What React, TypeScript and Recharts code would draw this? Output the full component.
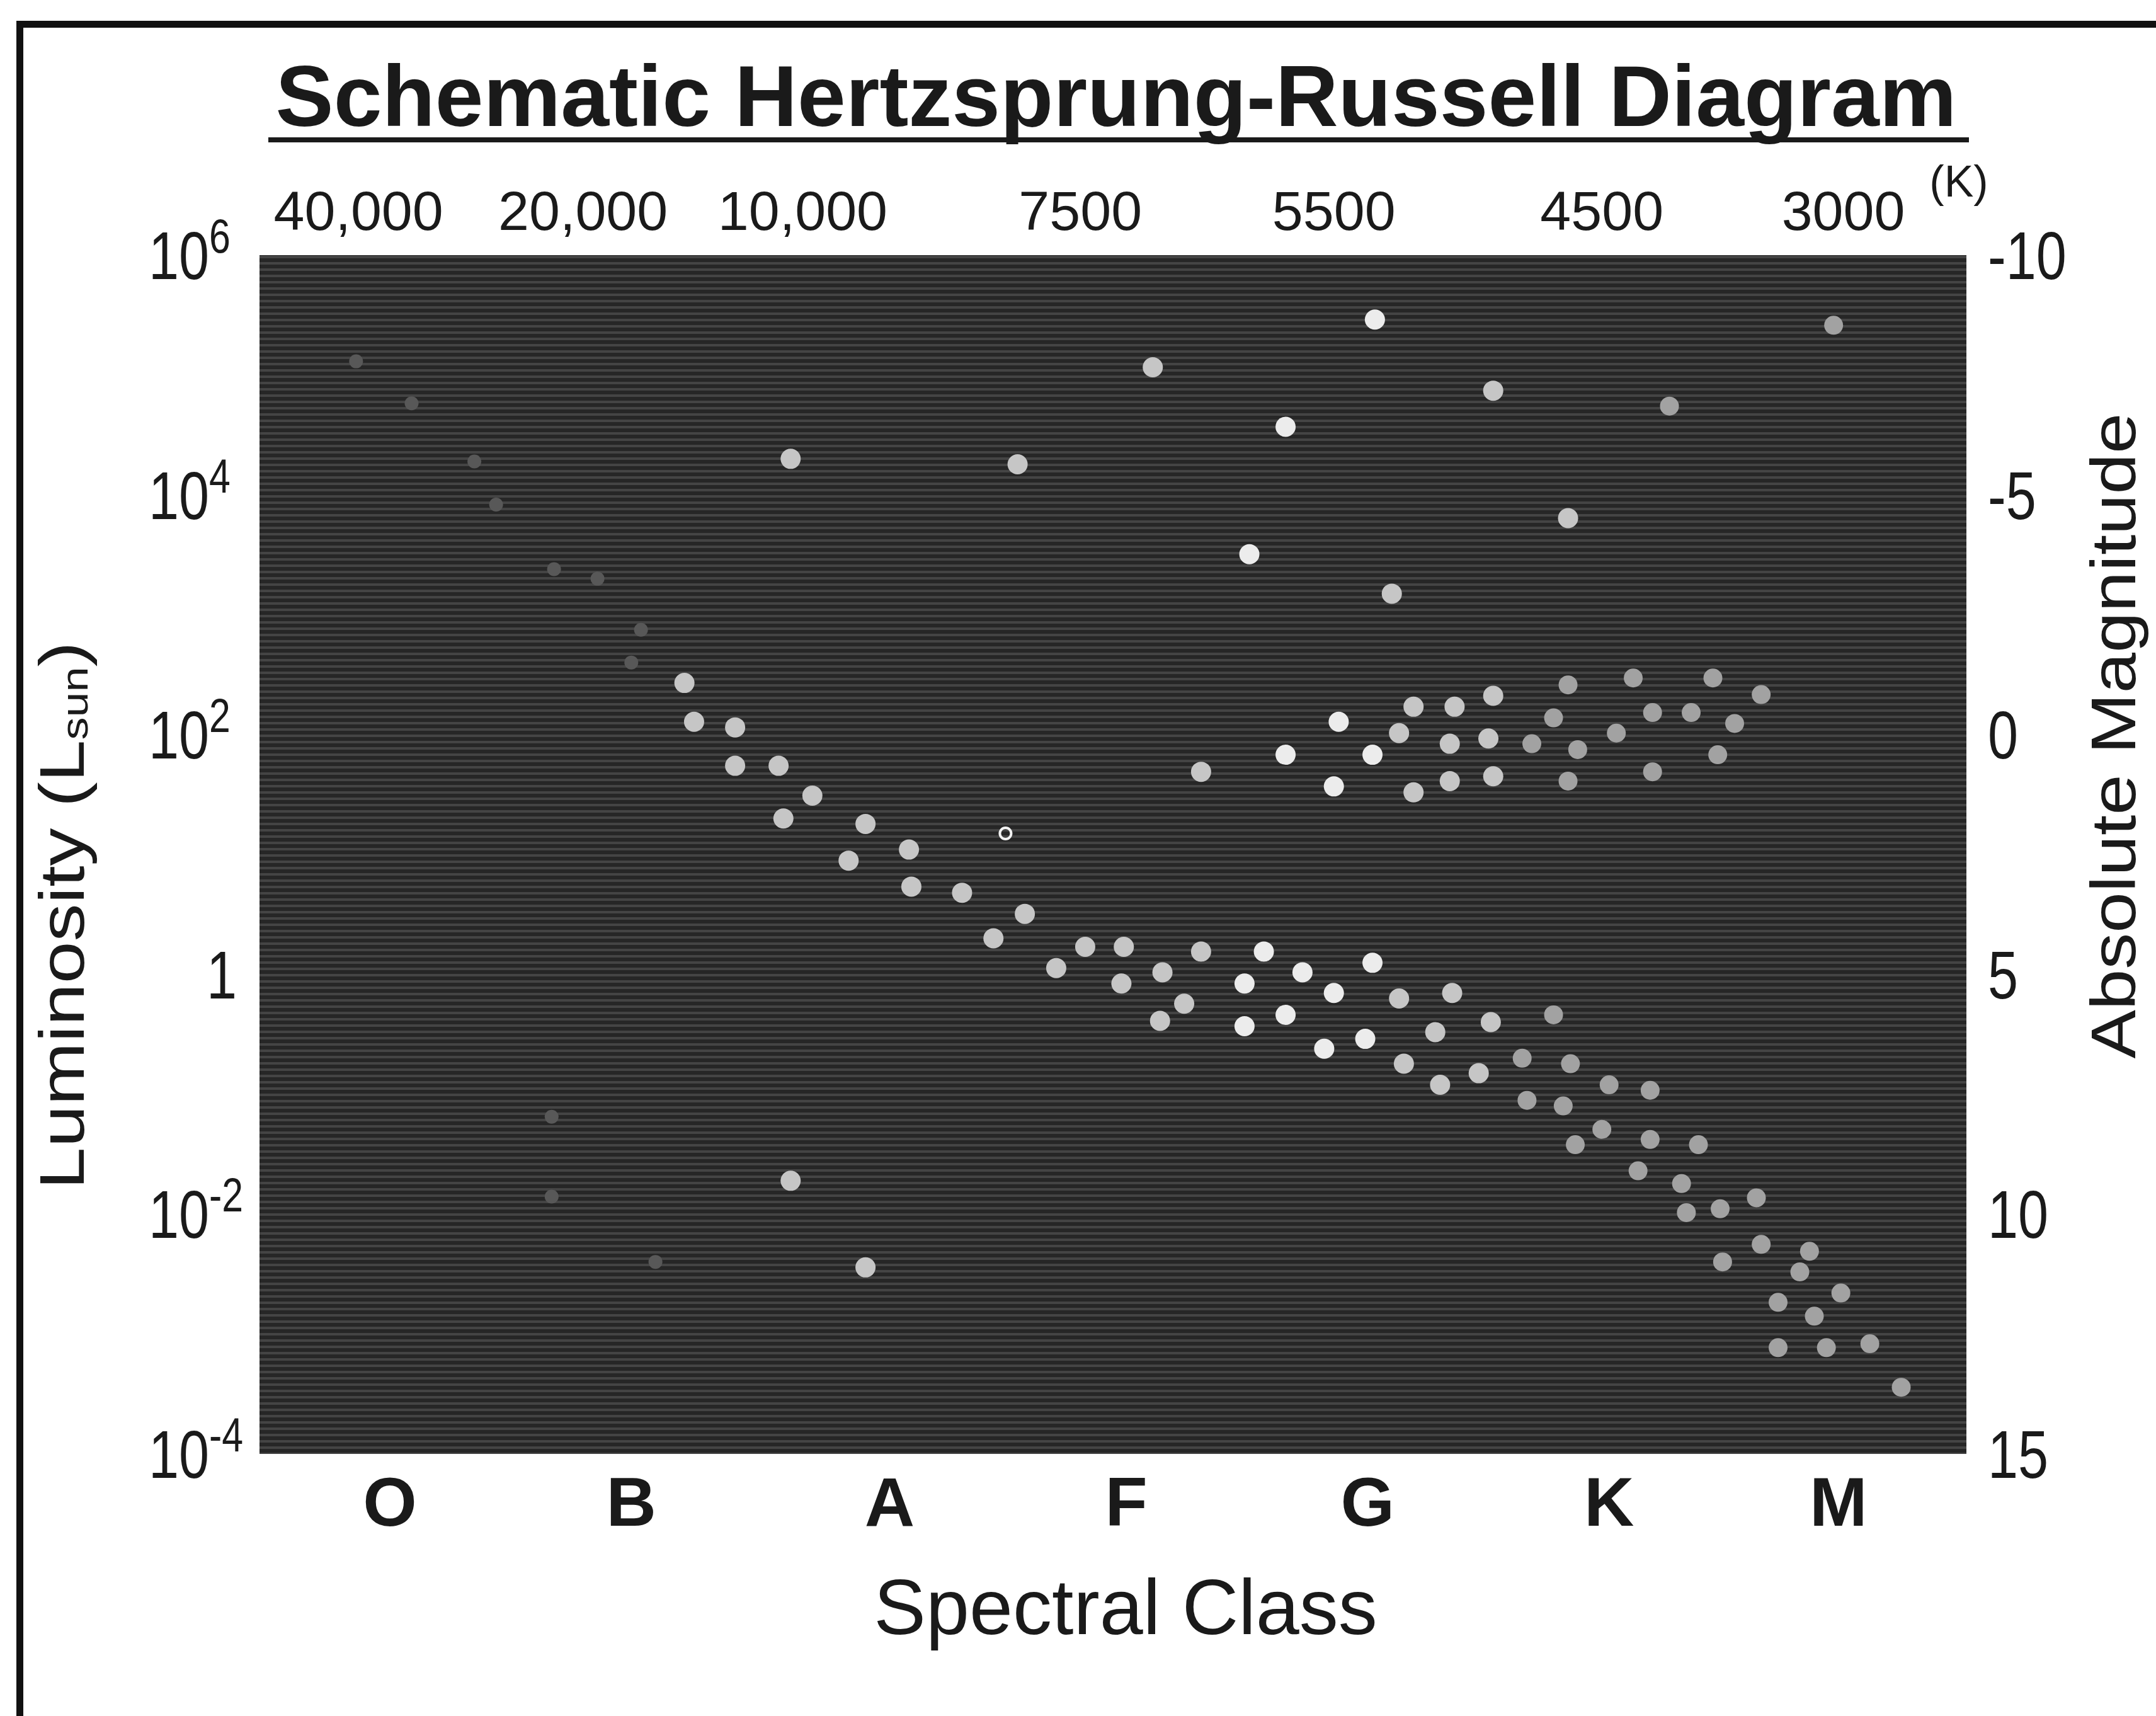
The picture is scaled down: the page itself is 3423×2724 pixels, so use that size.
import { ScatterChart, Scatter, XAxis, YAxis, CartesianGrid } from "recharts";

const classTicks = [1, 2, 3.07, 4.05, 5.05, 6.05, 7];
const classLabels = ["O", "B", "A", "F", "G", "K", "M"];
const tempTicks = [0.87, 1.8, 2.71, 3.86, 4.91, 6.02, 7.02];
const tempLabels = ["40,000", "20,000", "10,000", "7500", "5500", "4500", "3000"];
const lumTicks = [1e-4, 1e-2, 1, 1e2, 1e4, 1e6];
const magTicks = [-10, -5, 0, 5, 10, 15];

// [spectral index (O=1 ... M=7), luminosity in L_sun]
const brightStars = [
  [5.08, 2.9e5], [4.71, 3.7e4], [4.56, 3.2e3],
  [4.71, 68], [4.93, 128], [4.91, 37], [5.07, 68],
  [4.62, 1.55], [5.07, 1.25], [4.78, 1.04], [4.54, 0.84], [4.91, 0.7],
  [4.71, 0.46], [4.54, 0.37], [5.04, 0.29], [4.87, 0.24],
];

const mediumStars = [
  [4.16, 1.16e5], [5.57, 7.4e4], [2.66, 2.0e4], [3.6, 1.8e4], [5.88, 6.4e3], [5.15, 1.5e3],
  [2.22, 270], [2.26, 128], [2.43, 115], [2.43, 55], [2.61, 55], [2.75, 31],
  [2.63, 20], [2.97, 18], [3.15, 11], [2.9, 8.9], [3.16, 5.4], [3.37, 4.8],
  [3.63, 3.2], [3.5, 2.0], [3.88, 1.7], [4.04, 1.7], [3.76, 1.13], [4.03, 0.84],
  [4.36, 1.55], [4.2, 1.04], [5.18, 0.63], [5.4, 0.7], [4.29, 0.57], [4.19, 0.41],
  [5.56, 0.4], [5.33, 0.33], [5.2, 0.18], [5.51, 0.15], [5.35, 0.12],
  [4.36, 49], [5.18, 103], [5.24, 171], [5.41, 171], [5.57, 211], [5.39, 84],
  [5.55, 93], [5.24, 33], [5.39, 41], [5.57, 45],
  [2.66, 0.019], [2.97, 0.0036],
];

const dimStars = [
  [6.98, 2.6e5], [6.3, 5.5e4],
  [5.82, 0.46], [5.69, 0.2], [5.89, 0.18], [5.71, 0.089], [5.86, 0.08], [6.05, 0.12],
  [6.22, 0.108], [6.02, 0.051], [5.91, 0.038], [6.22, 0.042], [6.42, 0.038], [6.17, 0.023],
  [6.35, 0.018], [6.66, 0.0137], [6.37, 0.0103], [6.51, 0.0111], [6.68, 0.0056],
  [6.88, 0.0049], [6.52, 0.004], [6.84, 0.0033], [7.01, 0.0022], [6.75, 0.00184],
  [6.9, 0.00141], [6.75, 0.00077], [6.95, 0.00077], [7.13, 0.00083], [7.26, 0.00036],
  [5.73, 84], [5.88, 260], [5.82, 138], [5.92, 75], [5.88, 41], [6.15, 297],
  [6.48, 297], [6.68, 216], [6.23, 153], [6.39, 153], [6.57, 124], [6.08, 103],
  [6.5, 68], [6.23, 49],
];

const faintStars = [
  [0.86, 1.3e5], [1.09, 5.8e4], [1.35, 1.9e4], [1.44, 8.3e3], [1.68, 2.4e3],
  [1.86, 2.0e3], [2.04, 750], [2.0, 400], [1.67, 0.065], [1.67, 0.014], [2.1, 0.004],
];

const openStars = [[3.55, 15]];

const toPoints = (rows: number[][]) => rows.map(([x, lum]) => ({ x, lum }));

const TEXT = "#1a1a1a";
const FONT = "'Liberation Sans', Arial, sans-serif";

const dot = (fill: string, r: number) => (props: any) =>
  <circle cx={props.cx} cy={props.cy} r={r} fill={fill} />;

const ring = (props: any) => (
  <circle cx={props.cx} cy={props.cy} r={9} fill="none" stroke="#f2f2f2" strokeWidth={4} />
);

// the scan's tick labels are a narrow face, hence the horizontal squeeze
const LumTick = ({ x, y, payload }: any) => {
  const exp = Math.round(Math.log10(payload.value));
  if (exp === 0) {
    return (
      <g transform={`translate(${x},${y}) scale(0.8,1)`}>
        <text textAnchor="end" dy={38} fontSize={108} fill={TEXT} fontFamily={FONT}>1</text>
      </g>
    );
  }
  return (
    <g transform={`translate(${x - 140},${y}) scale(0.8,1)`}>
      <text textAnchor="start" dy={38} fontSize={108} fill={TEXT} fontFamily={FONT}>
        10
        <tspan fontSize={76} dy={-42}>{exp}</tspan>
      </text>
    </g>
  );
};

const MagTick = ({ x, y, payload }: any) => (
  <g transform={`translate(${x},${y}) scale(0.8,1)`}>
    <text textAnchor="start" dy={38} fontSize={108} fill={TEXT} fontFamily={FONT}>
      {payload.value}
    </text>
  </g>
);

const TempTick = ({ x, y, index }: any) => (
  <text x={x} y={y} textAnchor="middle" dy={30} fontSize={88} fill={TEXT} fontFamily={FONT}>
    {tempLabels[index]}
  </text>
);

const ClassTick = ({ x, y, index }: any) => (
  <text x={x} y={y} textAnchor="middle" dy={38} fontSize={110} fontWeight="bold" fill={TEXT} fontFamily={FONT}>
    {classLabels[index]}
  </text>
);

const W = 3423;
const H = 2724;

export default function App() {
  return (
    <div style={{ position: "absolute", left: 0, top: 0, width: W, height: H, background: "#fff" }}>
      <ScatterChart
        width={W}
        height={H}
        margin={{ top: 255, right: 51, bottom: 266, left: 112 }}
      >
        <defs>
          <pattern id="scanlines" width="10" height="10" patternUnits="userSpaceOnUse">
            <rect width="10" height="10" fill="#262626" />
            <rect y="6" width="10" height="4" fill="#444444" />
          </pattern>
        </defs>
        <CartesianGrid horizontal={false} vertical={false} fill="url(#scanlines)" stroke="none" />
        <XAxis
          xAxisId="class"
          type="number"
          dataKey="x"
          domain={[0.46, 7.53]}
          allowDataOverflow
          ticks={classTicks}
          interval={0}
          orientation="bottom"
          height={150}
          axisLine={false}
          tickLine={false}
          tickSize={0}
          tickMargin={76}
          tick={<ClassTick />}
        />
        <XAxis
          xAxisId="temp"
          type="number"
          dataKey="x"
          domain={[0.46, 7.53]}
          allowDataOverflow
          ticks={tempTicks}
          interval={0}
          orientation="top"
          height={150}
          axisLine={false}
          tickLine={false}
          tickSize={0}
          tickMargin={70}
          tick={<TempTick />}
        />
        <YAxis
          yAxisId="lum"
          type="number"
          dataKey="lum"
          scale="log"
          domain={[1e-4, 1e6]}
          allowDataOverflow
          ticks={lumTicks}
          interval={0}
          orientation="left"
          width={300}
          axisLine={false}
          tickLine={false}
          tickSize={0}
          tickMargin={36}
          tick={<LumTick />}
        />
        <YAxis
          yAxisId="mag"
          type="number"
          dataKey="mag"
          domain={[-10, 15]}
          reversed
          allowDataOverflow
          ticks={magTicks}
          interval={0}
          orientation="right"
          width={250}
          axisLine={false}
          tickLine={false}
          tickSize={0}
          tickMargin={34}
          tick={<MagTick />}
        />
        <Scatter xAxisId="temp" yAxisId="mag" data={[]} isAnimationActive={false} />
        <Scatter xAxisId="class" yAxisId="lum" data={toPoints(faintStars)} shape={dot("#585858", 11)} isAnimationActive={false} />
        <Scatter xAxisId="class" yAxisId="lum" data={toPoints(dimStars)} shape={dot("#a2a2a2", 15)} isAnimationActive={false} />
        <Scatter xAxisId="class" yAxisId="lum" data={toPoints(mediumStars)} shape={dot("#c6c6c6", 16)} isAnimationActive={false} />
        <Scatter xAxisId="class" yAxisId="lum" data={toPoints(brightStars)} shape={dot("#ececec", 16)} isAnimationActive={false} />
        <Scatter xAxisId="class" yAxisId="lum" data={toPoints(openStars)} shape={ring} isAnimationActive={false} />
      </ScatterChart>

      <svg width={W} height={H} style={{ position: "absolute", left: 0, top: 0, pointerEvents: "none" }}>
        <rect x={26} y={33} width={W - 26} height={11} fill="#111" />
        <rect x={26} y={33} width={11} height={H - 33} fill="#111" />
        <text x={1772} y={200} textAnchor="middle" fontSize={138} fontWeight="bold" fill={TEXT} fontFamily={FONT}>
          Schematic Hertzsprung-Russell Diagram
        </text>
        <rect x={426} y={218} width={2700} height={8} fill={TEXT} />
        <text x={3110} y={312} textAnchor="middle" fontSize={70} fill={TEXT} fontFamily={FONT}>
          (K)
        </text>
        <text
          transform="translate(98,1888) rotate(-90) scale(1.2,1)"
          textAnchor="start"
          dominantBaseline="central"
          fontSize={100}
          fill={TEXT}
          fontFamily={FONT}
        >
          Luminosity (L<tspan fontSize={60} dy={20}>sun</tspan>
          <tspan dy={-20}>)</tspan>
        </text>
        <text
          transform="translate(3355,1168) rotate(-90) scale(1.16,1)"
          textAnchor="middle"
          dominantBaseline="central"
          fontSize={100}
          fill={TEXT}
          fontFamily={FONT}
        >
          Absolute Magnitude
        </text>
        <text x={1787} y={2594} textAnchor="middle" fontSize={124} fill={TEXT} fontFamily={FONT}>
          Spectral Class
        </text>
      </svg>
    </div>
  );
}
